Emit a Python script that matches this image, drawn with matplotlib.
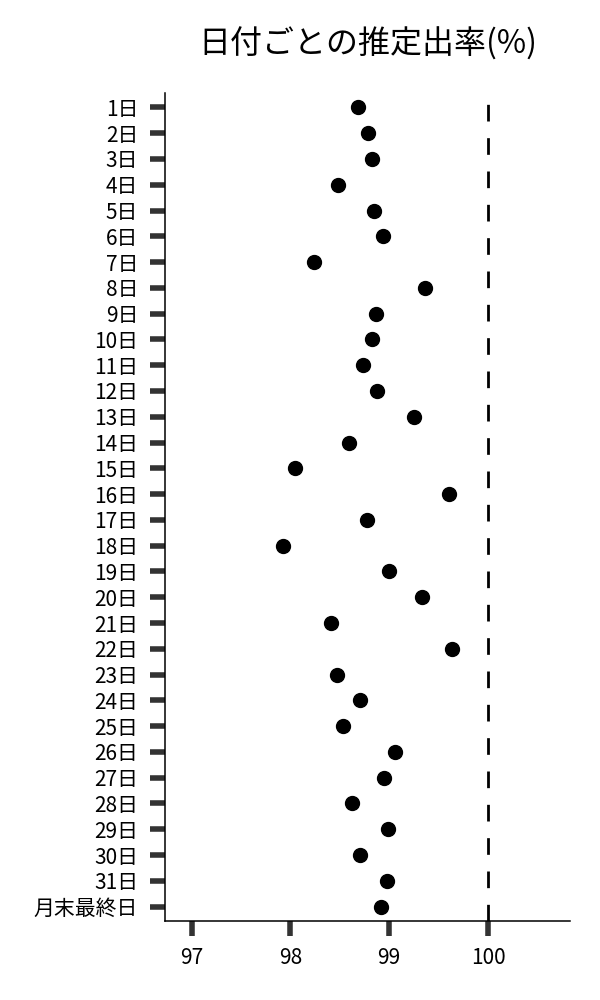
import matplotlib
matplotlib.use("Agg")
import matplotlib.pyplot as plt

plt.rcParams["font.family"] = ["Noto Sans CJK JP", "DejaVu Sans"]

"""
__Data__
"""
days = [f"{d}日" for d in range(1, 32)] + ["月末最終日"]
rates = [
    98.68, 98.79, 98.83, 98.48, 98.85, 98.94, 98.24, 99.36,
    98.87, 98.83, 98.73, 98.88, 99.25, 98.59, 98.05, 99.61,
    98.77, 97.92, 99.00, 99.33, 98.41, 99.64, 98.47, 98.70,
    98.53, 99.06, 98.95, 98.62, 98.99, 98.70, 98.98, 98.92,
]
reference = 100
title = "日付ごとの推定出率(%)"
x_ticks = [97, 98, 99, 100]

"""
__Plot__
"""
fig = plt.figure(figsize=(6, 10), dpi=100)
ax = fig.add_axes([0.275, 0.079, 0.675, 0.828])

y = list(range(len(days)))
ax.plot(rates, y, linestyle="", marker="o", markersize=10, color="black")
ax.axvline(reference, color="black", linewidth=2, linestyle=(0, (6, 6)))

ax.set_xlim(96.73, 100.83)
ax.set_ylim(len(days) - 1 + 0.56, -0.56)

ax.set_yticks(y)
ax.set_yticklabels(days)
ax.set_xticks(x_ticks)
ax.set_xticklabels([str(t) for t in x_ticks])

ax.tick_params(axis="y", length=10.8, width=4, color="#333333", pad=8.5, labelsize=15)
ax.tick_params(axis="x", length=10.8, width=4, color="#333333", pad=8, labelsize=15)

for side in ["top", "right"]:
    ax.spines[side].set_visible(False)
for side in ["left", "bottom"]:
    ax.spines[side].set_linewidth(1.1)

ax.set_title(title, fontsize=23, pad=28)

fig.savefig("out.png", dpi=100)
